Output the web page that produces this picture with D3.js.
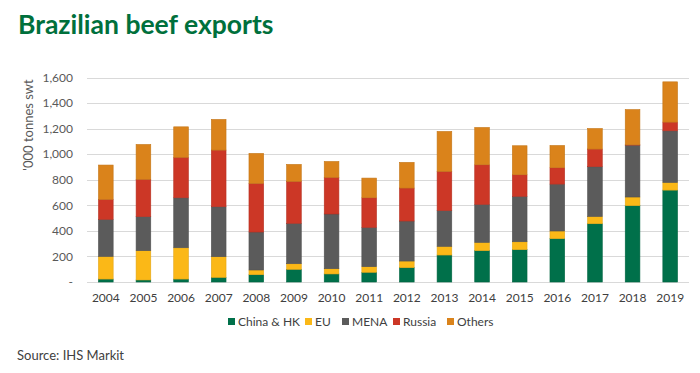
<!DOCTYPE html>
<html lang="en">
<head>
<meta charset="UTF-8">
<title>Brazilian beef exports</title>
<script src="https://d3js.org/d3.v7.min.js"></script>
<style>
  body { margin: 0; background: #fff; }
  svg { display: block; font-family: Lato, "Open Sans", sans-serif; }
</style>
</head>
<body>
<script>
  // data, '000 tonnes swt
  const years = ["2004","2005","2006","2007","2008","2009","2010","2011","2012","2013","2014","2015","2016","2017","2018","2019"];
  const chinaHK = [23, 16, 23, 36, 57, 99, 63, 76, 112, 211, 245, 253, 339, 456, 597, 719];
  const eu      = [177, 229, 245, 162, 37, 44, 41, 44, 52, 68, 65, 62, 60, 57, 68, 60];
  const mena    = [290, 266, 391, 391, 297, 316, 428, 307, 313, 279, 297, 355, 367, 389, 406, 404];
  const russia  = [156, 292, 316, 443, 380, 328, 286, 232, 258, 307, 310, 169, 128, 138, 2, 68];
  const others  = [269, 273, 239, 240, 235, 133, 125, 154, 201, 313, 292, 227, 174, 161, 276, 315];
  const seriesNames = ["China & HK", "EU", "MENA", "Russia", "Others"];
  const colors = ["#00704a", "#fbb817", "#5b5b5b", "#cc3726", "#da831b"];
  const yTicks = [0, 200, 400, 600, 800, 1000, 1200, 1400, 1600];

  const width = 700, height = 373;
  const svg = d3.select("body").append("svg").attr("width", width).attr("height", height);

  const x = d3.scaleBand().domain(years).range([87, 689]).paddingInner(0.61).paddingOuter(0.305);
  const y = d3.scaleLinear().domain([0, 1600]).range([282, 77.5]);

  // title
  svg.append("text").attr("x", 18).attr("y", 34)
    .attr("fill", "#00703c").attr("font-weight", "bold").attr("font-size", 26.5)
    .text("Brazilian beef exports");

  // gridlines
  svg.append("g").selectAll("line").data(yTicks).join("line")
    .attr("x1", 87).attr("x2", 689)
    .attr("y1", d => Math.round(y(d)) + 0.5).attr("y2", d => Math.round(y(d)) + 0.5)
    .attr("stroke", "#d9d9d9");

  // y labels
  svg.append("g").selectAll("text").data(yTicks).join("text")
    .attr("x", 73).attr("y", d => y(d)).attr("dy", "0.35em")
    .attr("text-anchor", "end").attr("font-size", 12).attr("fill", "#595959")
    .text(d => d === 0 ? "-" : d3.format(",")(d));

  svg.append("text")
    .attr("transform", "translate(33,125) rotate(-90)")
    .attr("text-anchor", "middle").attr("font-size", 13).attr("fill", "#595959")
    .text("'000 tonnes swt");

  // stacked bars
  const table = years.map((yr, i) => ({
    year: yr, "China & HK": chinaHK[i], "EU": eu[i], "MENA": mena[i], "Russia": russia[i], "Others": others[i]
  }));
  const stacked = d3.stack().keys(seriesNames)(table);

  svg.append("g").selectAll("g").data(stacked).join("g")
    .attr("fill", (d, i) => colors[i])
    .attr("stroke", (d, i) => d3.color(colors[i]).darker(0.3))
    .attr("stroke-width", 0.6)
    .selectAll("rect").data(d => d).join("rect")
    .attr("x", d => x(d.data.year))
    .attr("width", x.bandwidth())
    .attr("y", d => y(d[1]))
    .attr("height", d => y(d[0]) - y(d[1]));

  // x labels
  svg.append("g").selectAll("text").data(years).join("text")
    .attr("x", d => x(d) + x.bandwidth() / 2).attr("y", 302)
    .attr("text-anchor", "middle").attr("font-size", 12).attr("fill", "#404040")
    .text(d => d);

  // legend
  const legendX = [228, 305, 342, 393, 447];
  const leg = svg.append("g").selectAll("g").data(seriesNames).join("g")
    .attr("transform", (d, i) => `translate(${legendX[i]},322)`);
  leg.append("rect").attr("x", 0).attr("y", -4).attr("width", 7).attr("height", 7)
    .attr("fill", (d, i) => colors[i]);
  leg.append("text").attr("x", 10).attr("y", 0).attr("dy", "0.35em")
    .attr("font-size", 12).attr("fill", "#404040").text(d => d);

  // source
  svg.append("text").attr("x", 17).attr("y", 360)
    .attr("font-size", 13).attr("fill", "#404040")
    .text("Source: IHS Markit");
</script>
</body>
</html>
